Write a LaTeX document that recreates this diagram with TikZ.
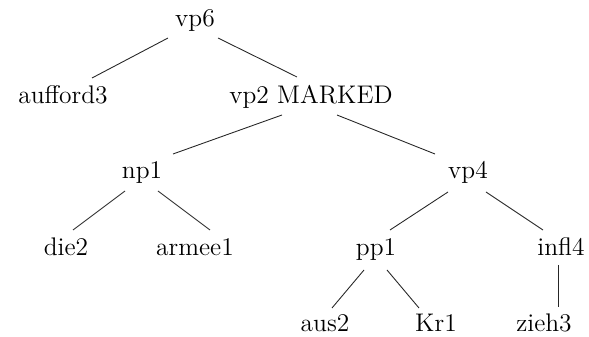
\documentclass[tikz,border=0pt]{standalone}
\usepackage{tikz}
\usetikzlibrary{calc}

\begin{document}
\begin{tikzpicture}[x=0.02cm, y=-0.02cm,
    word/.style={anchor=base, inner sep=0pt, font=\fontsize{14.5}{17}\selectfont},
    branch/.style={line width=0.5pt, black!85}]
        % Rahmen
        \useasboundingbox (0,0) rectangle (589,337);

        % Knoten des Baums (Grundlinie)
        \node[word] (vp6) at (195,27) {vp6};
        \node[word] (aufford3) at (63,104) {aufford3};
        \node[word] (vp2) at (311,104) {vp2 MARKED};
        \node[word] (np1) at (142,179) {np1};
        \node[word] (vp4) at (468,179) {vp4};
        \node[word] (die2) at (66,256) {die2};
        \node[word] (armee1) at (195,256) {armee1};
        \node[word] (pp1) at (376,256) {pp1};
        \node[word] (infl4) at (561,256) {infl4};
        \node[word] (aus2) at (325,332) {aus2};
        \node[word] (Kr1) at (436,332) {Kr1};
        \node[word] (zieh3) at (544,332) {zieh3};

        % Kanten
        \draw[branch] ($(vp6.base)+(-27,11)$) -- ($(aufford3.base)+(29,-26)$);
        \draw[branch] ($(vp6.base)+(23,11)$) -- ($(vp2.base)+(-14,-27)$);
        \draw[branch] ($(vp2.base)+(-29,11)$) -- ($(np1.base)+(31,-25)$);
        \draw[branch] ($(vp2.base)+(26,11)$) -- ($(vp4.base)+(-33,-25)$);
        \draw[branch] ($(np1.base)+(-17,12)$) -- ($(die2.base)+(7,-26)$);
        \draw[branch] ($(np1.base)+(16,12)$) -- ($(armee1.base)+(15,-26)$);
        \draw[branch] ($(vp4.base)+(-20,13)$) -- ($(pp1.base)+(14,-26)$);
        \draw[branch] ($(vp4.base)+(18,13)$) -- ($(infl4.base)+(-18,-26)$);
        \draw[branch] ($(pp1.base)+(-12,14)$) -- ($(aus2.base)+(7,-24)$);
        \draw[branch] ($(pp1.base)+(11,14)$) -- ($(Kr1.base)+(-17,-24)$);
        \draw[branch] ($(infl4.base)+(-3,9)$) -- ($(zieh3.base)+(14,-25)$);

    \end{tikzpicture}
\end{document}
